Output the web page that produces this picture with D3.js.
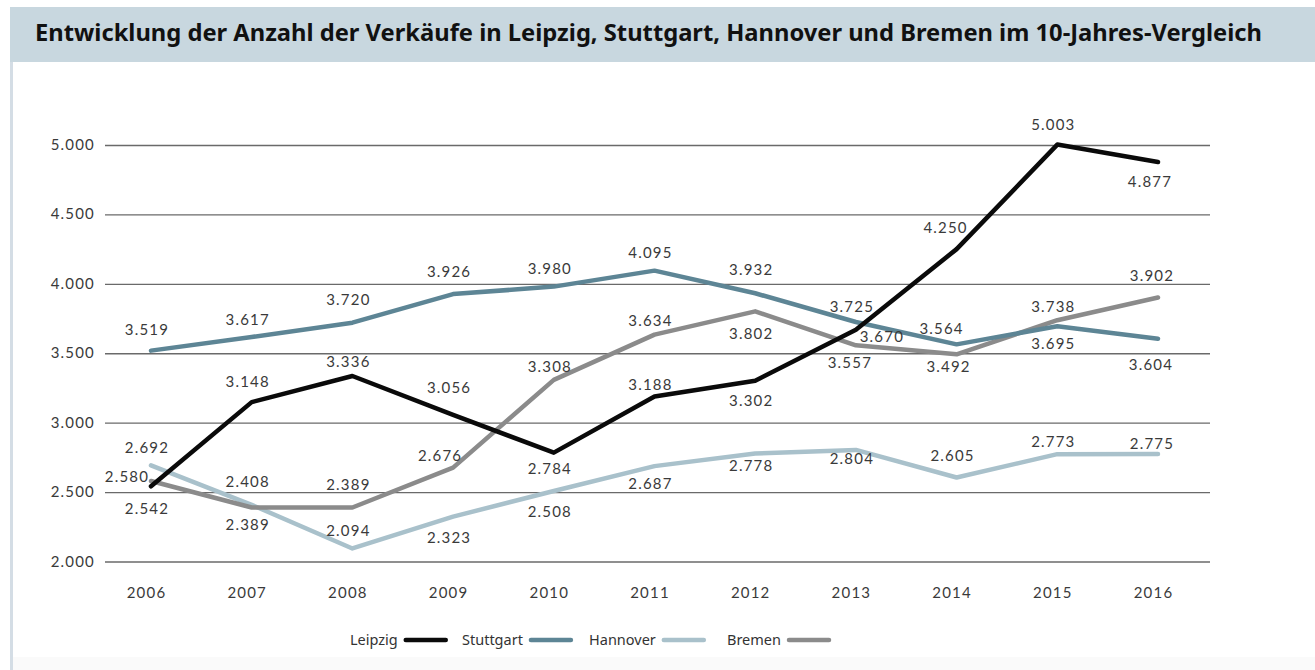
<!DOCTYPE html>
<html>
<head>
<meta charset="utf-8">
<script src="https://cdn.jsdelivr.net/npm/d3@7"></script>
<style>
  html, body { margin: 0; padding: 0; background: #fff; }
  svg { display: block; }
</style>
</head>
<body>
<svg id="chart" width="1315" height="670"></svg>
<script>
// ---- data ----
var years = [2006, 2007, 2008, 2009, 2010, 2011, 2012, 2013, 2014, 2015, 2016];
var leipzig   = [2542, 3148, 3336, 3056, 2784, 3188, 3302, 3670, 4250, 5003, 4877];
var stuttgart = [3519, 3617, 3720, 3926, 3980, 4095, 3932, 3725, 3564, 3695, 3604];
var hannover  = [2692, 2408, 2094, 2323, 2508, 2687, 2778, 2804, 2605, 2773, 2775];
var bremen    = [2580, 2389, 2389, 2676, 3308, 3634, 3802, 3557, 3492, 3738, 3902];
var seriesNames = ["Leipzig", "Stuttgart", "Hannover", "Bremen"];
var yTicks = [2000, 2500, 3000, 3500, 4000, 4500, 5000];
var title = "Entwicklung der Anzahl der Verkäufe in Leipzig, Stuttgart, Hannover und Bremen im 10-Jahres-Vergleich";

// ---- look ----
var colors = { Leipzig: "#0a0a0a", Stuttgart: "#5d8595", Hannover: "#a9c1cb", Bremen: "#8b8b8b" };
// vertical offset of each value label (centre) from its point, px
var labelDy = {
  Leipzig:   [23, -20, -14, -27, 16, -12, 20, 7, -21, -20, 20],
  Stuttgart: [-21, -17, -23, -22, -18, -18, -23, -15, -15, 18, 26],
  Hannover:  [-17, -23, -17, 21, 21, 18, 13, 9, -22, -12, -10],
  Bremen:    [-4, 18, -22, -12, -13, -14, 23, 18, 13, -13, -21]
};
var labelDx = {
  Leipzig:   [0, 0, 0, 0, 0, 0, 0, 30, -7, 0, -4],
  Stuttgart: [0, 0, 0, 0, 0, 0, 0, 0, -11, 0, -3],
  Hannover:  [0, 0, 0, 0, 0, 0, 0, 0, 0, 0, -2],
  Bremen:    [-20, 0, 0, -9, 0, 0, 0, -2, -4, 0, -2]
};

var data = {
  Leipzig: leipzig, Stuttgart: stuttgart, Hannover: hannover, Bremen: bremen
};

var de = d3.formatLocale({ decimal: ",", thousands: ".", grouping: [3], currency: ["", " €"] });
var fmt = de.format(",d");

var svg = d3.select("#chart");
var numFont = "Lato, 'DejaVu Sans', sans-serif";
var textFont = "'Noto Sans', 'Open Sans', sans-serif";

// panel frame + header bar
svg.append("rect").attr("x", 10).attr("y", 62).attr("width", 3).attr("height", 608).attr("fill", "#d4dde5");
svg.append("rect").attr("x", 13).attr("y", 657).attr("width", 1302).attr("height", 13).attr("fill", "#fafafa");
svg.append("rect").attr("x", 10).attr("y", 7).attr("width", 1305).attr("height", 55).attr("fill", "#c8d7df");

var t = svg.append("text")
  .attr("x", 35).attr("y", 41)
  .attr("font-family", textFont)
  .attr("font-weight", 700)
  .attr("font-size", 21)
  .attr("fill", "#111")
  .text(title);
// fit the title to the width it takes in the reference
var tw = t.node().getComputedTextLength();
t.attr("font-size", 21 * 1227 / tw);

// ---- scales ----
var x = d3.scaleLinear().domain([2006, 2016]).range([151, 1158]);
var y = d3.scaleLinear().domain([2000, 5000]).range([561.5, 145]);

// grid lines
var yAxis = d3.axisLeft(y).tickValues(yTicks).tickSize(1105).tickFormat("");
var ga = svg.append("g").attr("transform", "translate(1210,0)").call(yAxis);
ga.select(".domain").remove();
ga.selectAll(".tick line").attr("stroke", "#6a6a6a").attr("stroke-width", 1.3);
ga.selectAll(".tick text").remove();

// y labels
svg.append("g").selectAll("text").data(yTicks).join("text")
  .attr("x", 95).attr("y", function (d) { return y(d) + 5; })
  .attr("text-anchor", "end")
  .attr("font-family", numFont).attr("font-size", 15).attr("letter-spacing", 1.2)
  .attr("fill", "#3a3a3a")
  .text(fmt);

// x labels
var xAxis = d3.axisBottom(x).tickValues(years).tickFormat(d3.format("d")).tickSize(0);
var gx = svg.append("g").attr("transform", "translate(-5,584)").call(xAxis);
gx.select(".domain").remove();
gx.selectAll(".tick text")
  .attr("font-family", numFont).attr("font-size", 15).attr("letter-spacing", 1.2)
  .attr("fill", "#3a3a3a");

// ---- lines ----
var line = d3.line()
  .x(function (d, i) { return x(years[i]); })
  .y(function (d) { return y(d); });

var drawOrder = ["Hannover", "Bremen", "Stuttgart", "Leipzig"];
svg.append("g").selectAll("path").data(drawOrder).join("path")
  .attr("d", function (name) { return line(data[name]); })
  .attr("fill", "none")
  .attr("stroke", function (name) { return colors[name]; })
  .attr("stroke-width", 4.5)
  .attr("stroke-linejoin", "round")
  .attr("stroke-linecap", "round");

// ---- value labels ----
seriesNames.forEach(function (name) {
  svg.append("g").selectAll("text").data(data[name]).join("text")
    .attr("x", function (d, i) { return x(years[i]) - 4 + labelDx[name][i]; })
    .attr("y", function (d, i) { return y(d) + labelDy[name][i] + 5; })
    .attr("text-anchor", "middle")
    .attr("font-family", numFont).attr("font-size", 15).attr("letter-spacing", 1.2)
    .attr("fill", "#3a3a3a")
    .text(fmt);
});

// ---- legend ----
var legendX = [350, 462, 589, 727];
var lg = svg.append("g").selectAll("g").data(seriesNames).join("g")
  .attr("transform", function (d, i) { return "translate(" + legendX[i] + ",640)"; });
lg.append("text")
  .attr("y", 5)
  .attr("font-family", textFont).attr("font-size", 14.5)
  .attr("fill", "#333")
  .text(function (d) { return d; });
lg.each(function (d) {
  var g = d3.select(this);
  var w = g.select("text").node().getComputedTextLength();
  g.append("line")
    .attr("x1", w + 8).attr("x2", w + 48)
    .attr("y1", 0).attr("y2", 0)
    .attr("stroke", colors[d]).attr("stroke-width", 4.5)
    .attr("stroke-linecap", "round");
});
</script>
</body>
</html>
